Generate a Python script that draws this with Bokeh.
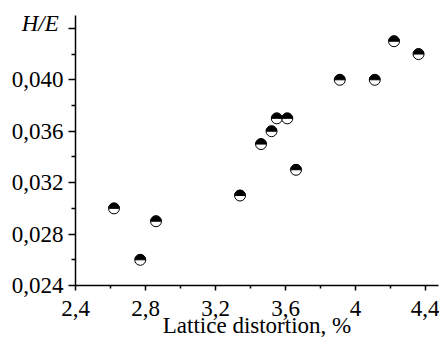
import numpy as np
from bokeh.plotting import figure
from bokeh.models import FixedTicker, Range1d, ColumnDataSource
from bokeh.embed import file_html
from bokeh.resources import INLINE

# data
distortion = [2.62, 2.77, 2.86, 3.34, 3.46, 3.52, 3.55, 3.61, 3.66, 3.91, 4.11, 4.22, 4.36]
h_over_e = [0.030, 0.026, 0.029, 0.031, 0.035, 0.036, 0.037, 0.037, 0.033, 0.040, 0.040, 0.043, 0.042]

x_ticks = [2.4, 2.8, 3.2, 3.6, 4.0, 4.4]
x_tick_labels = ["2,4", "2,8", "3,2", "3,6", "4", "4,4"]
x_minor = [2.6, 3.0, 3.4, 3.8, 4.2]
y_ticks = [0.024, 0.028, 0.032, 0.036, 0.040, 0.044]
y_tick_labels = ["0,024", "0,028", "0,032", "0,036", "0,040", ""]
y_minor = [0.026, 0.030, 0.034, 0.038, 0.042]

FONT = "Liberation Serif"
FS = "23px"

src = ColumnDataSource(dict(x=distortion, y=h_over_e))

p = figure(width=439, height=340,
           x_range=Range1d(2.4, 4.474), y_range=Range1d(0.024, 0.045),
           output_backend="svg", toolbar_location=None,
           min_border_left=75, min_border_top=15, min_border_right=1, min_border_bottom=55)
p.outline_line_color = None
p.xgrid.visible = False
p.ygrid.visible = False
p.background_fill_color = "white"
p.border_fill_color = "white"

p.xaxis.ticker = FixedTicker(ticks=x_ticks, minor_ticks=x_minor)
p.xaxis.major_label_overrides = dict(zip(x_ticks, x_tick_labels))
p.yaxis.ticker = FixedTicker(ticks=y_ticks, minor_ticks=y_minor)
p.yaxis.major_label_overrides = dict(zip(y_ticks, y_tick_labels))

for ax in (p.xaxis, p.yaxis):
    ax.axis_line_width = 1.5
    ax.axis_line_color = "black"
    ax.major_tick_line_width = 1.5
    ax.minor_tick_line_width = 1.5
    ax.major_tick_line_color = "black"
    ax.minor_tick_line_color = "black"
    ax.major_tick_in = 0
    ax.minor_tick_in = 0
    ax.major_label_text_font = FONT
    ax.major_label_text_font_size = FS
    ax.major_label_text_color = "black"
    ax.axis_label_text_font = FONT
    ax.axis_label_text_font_size = FS
    ax.axis_label_text_color = "black"

p.xaxis.major_tick_out = 5
p.xaxis.minor_tick_out = 3
p.xaxis.major_label_standoff = 10
p.xaxis.axis_label = "Lattice distortion, %"
p.xaxis.axis_label_text_font_style = "normal"
p.xaxis.axis_label_standoff = -6

p.yaxis.major_tick_out = 7
p.yaxis.minor_tick_out = 4
p.yaxis.major_label_standoff = 5
p.yaxis.axis_label = "\nH/E"
p.yaxis.axis_label_text_font_style = "italic"
p.yaxis.axis_label_text_line_height = 0.65
p.yaxis.axis_label_orientation = "horizontal"
p.yaxis.axis_label_align = "end"
p.yaxis.axis_label_standoff = -50

p.scatter("x", "y", source=src, size=11, fill_color="white", line_color="black", line_width=1)
p.wedge("x", "y", source=src, radius=5.2, radius_units="screen", start_angle=0, end_angle=np.pi,
        fill_color="black", line_color="black", line_width=1)

open("out.html", "w").write(file_html(p, INLINE))
